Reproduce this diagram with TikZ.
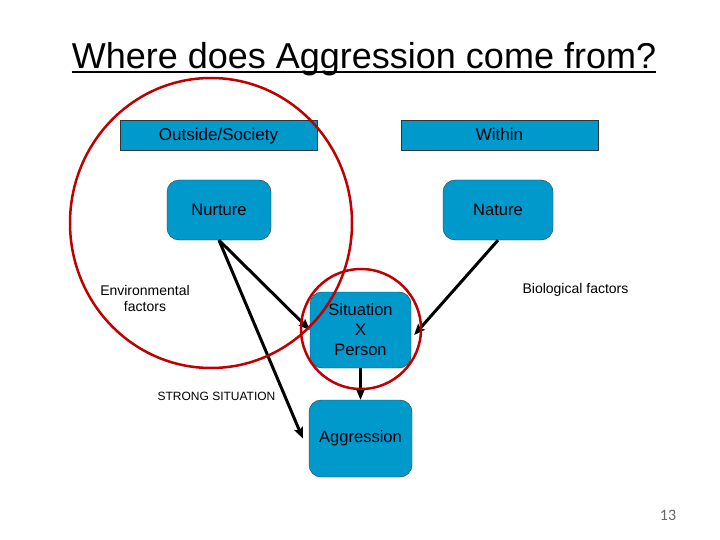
\documentclass[tikz,border=0pt]{standalone}
\usepackage{fontspec}
\setmainfont{Liberation Sans}
\newfontfamily\pagefont{Carlito}
\usetikzlibrary{arrows.meta}

\definecolor{boxblue}{HTML}{0099CC}
\definecolor{ringred}{HTML}{C00000}
\definecolor{boxtext}{HTML}{000008}

\begin{document}
\begin{tikzpicture}[x=1pt,y=-1pt,
    headbox/.style={draw=black!80, fill=boxblue, text=boxtext, inner sep=0pt,
      minimum width=197pt, minimum height=30pt, text height=12pt, text depth=0pt,
      font=\fontsize{17}{20}\selectfont},
    roundbox/.style={draw=black!80, fill=boxblue, text=boxtext, inner sep=0pt,
      rounded corners=12pt, align=center, font=\fontsize{16.5}{20}\selectfont},
    label/.style={align=center, font=\fontsize{14}{16}\selectfont},
    link/.style={line width=3pt, -{Stealth[length=11pt,width=9pt,inset=2pt]}},
    ring/.style={draw=ringred, line width=2.5pt}]

    % Fix the page to the slide size
    \useasboundingbox (0,0) rectangle (720,540);

    % Title with its underline
    \node[anchor=base, inner sep=0pt, font=\fontsize{36}{40}\selectfont] (title) at (364,69)
      {Where does Aggression come from?};
    \draw[line width=1.6pt] ([yshift=-3pt]title.base west) -- ([yshift=-3pt]title.base east);

    % Header boxes
    \node[headbox] (outside) at (218.5,135) {Outside/Society};
    \node[headbox] (within) at (499.5,135) {Within};

    % Nurture and Nature
    \node[roundbox, minimum width=104pt, minimum height=60pt] (nurture) at (219,210) {Nurture};
    \node[roundbox, minimum width=110pt, minimum height=60pt] (nature) at (498,210) {Nature};

    % Middle and bottom boxes
    \node[roundbox, minimum width=101pt, minimum height=76pt] (sitperson) at (360.5,330)
      {Situation\\X\\Person};
    \node[roundbox, minimum width=103pt, minimum height=77pt] (aggression) at (360.5,438.5)
      {Aggression};

    % Free labels
    \node[label] (envfactors) at (145,298) {Environmental\\factors};
    \node[label] (biofactors) at (575.5,290) {Biological factors};
    \node[font=\fontsize{12}{14}\selectfont] (strong) at (216.5,396) {STRONG SITUATION};

    % Arrows between the boxes
    \draw[link] (nurture.south) -- (sitperson.west);
    \draw[link] (nurture.south) -- ([xshift=-6pt]aggression.west);
    \draw[link] (nature.south) -- ([xshift=3pt,yshift=-5pt]sitperson.east);
    \draw[link] (sitperson.south) -- (aggression.north);

    % Red rings drawn on top
    \draw[ring] (211,223) ellipse [x radius=141pt, y radius=145pt];
    \draw[ring] (361,329) circle [radius=60pt];

    % Slide number
    \node[text=black!60, font=\pagefont\fontsize{16}{18}\selectfont] (pagenum) at (668,515) {13};

\end{tikzpicture}
\end{document}
